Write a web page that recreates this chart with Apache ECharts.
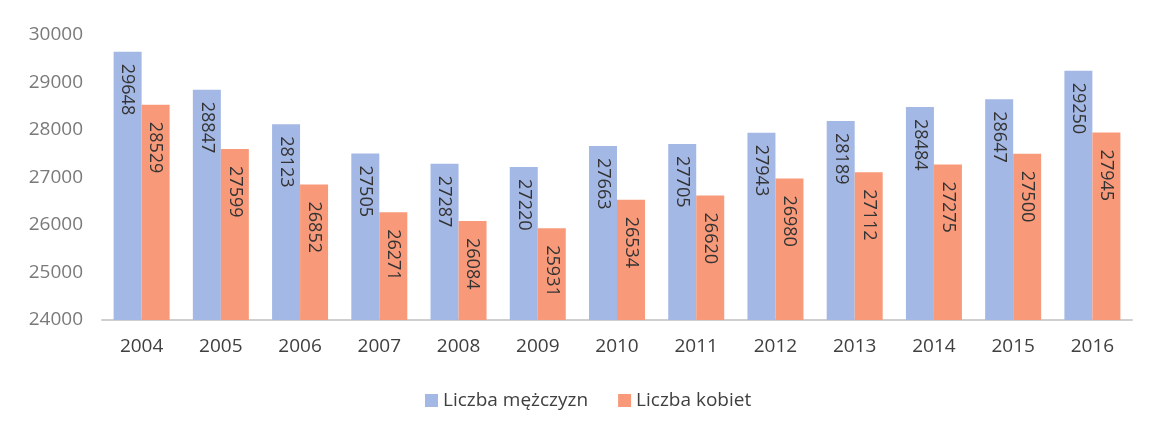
<!DOCTYPE html>
<html><head><meta charset="utf-8">
<script src="https://cdn.jsdelivr.net/npm/echarts@6/dist/echarts.min.js"></script>
<style>html,body{margin:0;padding:0;background:#fff}#c{width:1152px;height:426px}</style>
</head><body><div id="c"></div>
<script>
const categories = ['2004','2005','2006','2007','2008','2009','2010','2011','2012','2013','2014','2015','2016'];
const men = [29648, 28847, 28123, 27505, 27287, 27220, 27663, 27705, 27943, 28189, 28484, 28647, 29250];
const women = [28529, 27599, 26852, 26271, 26084, 25931, 26534, 26620, 26980, 27112, 27275, 27500, 27945];
const seriesNames = ['Liczba mężczyzn', 'Liczba kobiet'];
const yMin = 24000, yMax = 30000, yStep = 1000;

const chart = echarts.init(document.getElementById('c'));
const FONT = 'Open Sans';
function lbl(dist){
  return {show:true, position:'insideTop', distance:dist, rotate:-90, align:'left', verticalAlign:'middle',
    color:'#333', fontSize:18, fontFamily:FONT};
}
chart.setOption({
  animation:false,
  backgroundColor:'#fff',
  grid:{left:102, right:20, top:35, bottom:106, containLabel:false},
  legend:{bottom:11, left:420, itemWidth:13, itemHeight:13, itemGap:30, icon:'rect',
    textStyle:{color:'#404040', fontSize:19, fontFamily:FONT}},
  xAxis:{type:'category', data:categories,
    axisLine:{lineStyle:{color:'#cfcfcf', width:2}}, axisTick:{show:false},
    axisLabel:{color:'#404040', fontSize:19, fontFamily:FONT, margin:17}},
  yAxis:{type:'value', min:yMin, max:yMax, interval:yStep,
    axisLine:{show:false}, axisTick:{show:false}, splitLine:{show:false},
    axisLabel:{color:'#7a7a7a', fontSize:19, fontFamily:FONT, margin:19, formatter:v=>String(v)}},
  series:[
    {name:seriesNames[0], type:'bar', data:men, barWidth:28, barGap:'0%',
      itemStyle:{color:'#a4b8e5'}, label:lbl(12)},
    {name:seriesNames[1], type:'bar', data:women, barWidth:28,
      itemStyle:{color:'#f89a7a'}, label:lbl(17)}
  ]
});
</script></body></html>
